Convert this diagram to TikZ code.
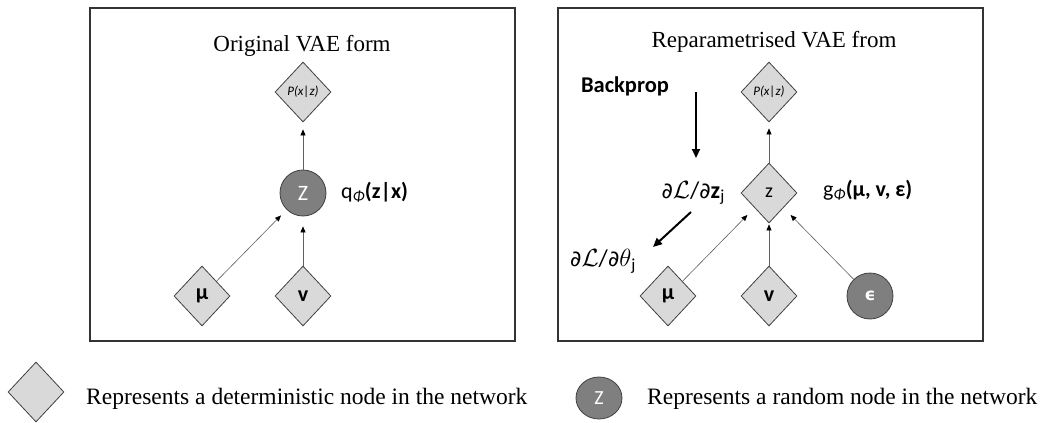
\documentclass[tikz,border=0pt]{standalone}
\usepackage{fontspec}
\setmainfont{Liberation Serif}
\newfontfamily\calib{Carlito}
\newfontfamily\dejavu{DejaVu Sans}
\usetikzlibrary{shapes.geometric,arrows.meta}
\definecolor{detfill}{HTML}{D9D9D9}
\definecolor{rndfill}{HTML}{7F7F7F}
\definecolor{nodeedge}{HTML}{404040}
\definecolor{lnk}{HTML}{606060}
\newcommand{\phisub}{\textsubscript{\textit{Φ}}}
\newcommand{\pd}{{\dejavu\fontsize{22}{24}\selectfont ∂}}
\begin{document}
\begin{tikzpicture}[x=1pt,y=-1pt,
  det/.style={diamond, draw=nodeedge, fill=detfill, line width=0.8pt, minimum width=56pt, minimum height=60pt, inner sep=0pt, aspect=0.93},
  rnd/.style={circle, draw=nodeedge, fill=rndfill, line width=0.8pt, minimum size=46pt, inner sep=0pt, text=white},
  link/.style={draw=lnk, line width=0.6pt, -{Triangle[length=6pt,width=5pt,color=black]}},
  bp/.style={draw=black, line width=2pt, -{Triangle[length=9pt,width=8pt]}},
  panel/.style={draw=black!80, line width=1.2pt},
  title/.style={font=\fontsize{23}{26}\selectfont, anchor=base},
  legtext/.style={font=\fontsize{23.5}{26}\selectfont, anchor=base west, inner sep=0pt},
  lbl/.style={font=\calib\fontsize{22}{24}\selectfont, inner sep=0pt},
  ptext/.style={font=\calib\itshape\fontsize{13}{14}\selectfont},
  gtext/.style={font=\calib\bfseries\fontsize{22}{24}\selectfont}
]
\useasboundingbox (0,0) rectangle (1045,423);

% panels
\draw[panel] (90,8) rectangle (515,341);
\draw[panel] (558,8) rectangle (983,341);

% left panel
\node[title] (t1) at (302,51) {Original VAE form};
\node[det, ptext] (P1) at (303,92) {P(x|z)};
\node[rnd, font=\calib\fontsize{22}{24}\selectfont] (Z1) at (303,193) {Z};
\node[det, gtext] (mu1) at (202,296) {μ};
\node[det, gtext] (v1) at (303,296) {v};
\node[lbl, anchor=west] (q1) at (341,192) {q\phisub\textbf{(z|x)}};

\draw[link, shorten >=7pt] (Z1) -- (P1);
\draw[link, shorten >=8pt] (mu1) -- (Z1);
\draw[link, shorten >=10pt] (v1) -- (Z1);

% right panel
\node[title] (t2) at (774,47) {Reparametrised VAE from};
\node[det, ptext] (P2) at (769,92) {P(x|z)};
\node[det, font=\calib\fontsize{20}{22}\selectfont] (z2) at (769,193) {z};
\node[det, gtext] (mu2) at (668,296) {μ};
\node[det, gtext] (v2) at (769,296) {v};
\node[rnd, font=\dejavu\bfseries\fontsize{17}{20}\selectfont] (eps) at (870,296) {ϵ};
\node[lbl, anchor=west] (g2) at (823,190) {g\phisub\textbf{(μ, v, ε)}};
\node[lbl, font=\calib\bfseries\fontsize{22.5}{24}\selectfont] (bpl) at (625,86) {Backprop};
\node[lbl, anchor=east, font=\calib\fontsize{24}{26}\selectfont] (dz) at (725,193) {\pd$\mathcal{L}$/\pd\textbf{z}\textsubscript{j}};
\node[lbl, anchor=west, font=\calib\fontsize{24}{26}\selectfont] (dth) at (570,261) {\pd$\mathcal{L}$/\pd$\theta$\textsubscript{j}};

\coordinate (bpA) at (696,92);
\coordinate (bpB) at (696,158);
\coordinate (bpC) at (691,212);
\coordinate (bpD) at (653,247);
\draw[bp] (bpA) -- (bpB);
\draw[bp] (bpC) -- (bpD);

\draw[link, shorten >=6pt] (z2) -- (P2);
\draw[link, shorten >=10pt] (mu2) -- (z2);
\draw[link, shorten >=1pt] (v2) -- (z2);
\draw[link, shorten >=10pt] (eps) -- (z2);

% legend
\node[det] (legD) at (36,392) {};
\node[legtext] (legDt) at (86,404) {Represents a deterministic node in the network};
\node[rnd, ellipse, minimum width=46pt, minimum height=42pt, font=\calib\fontsize{20}{22}\selectfont] (legR) at (599,398) {Z};
\node[legtext] (legRt) at (647,404) {Represents a random node in the network};
\end{tikzpicture}
\end{document}
